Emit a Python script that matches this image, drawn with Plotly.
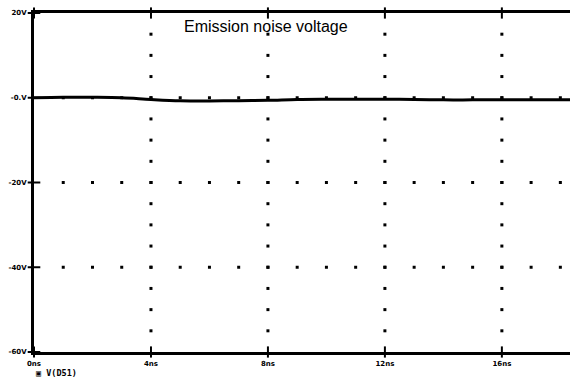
import plotly.graph_objects as go

# ---- data ----
time_ns = [0, 1, 2, 3, 4, 5, 6, 7, 8, 9, 10, 11, 12, 13, 14, 15, 16, 17, 18.33]
v_d51 = [0.0, 0.1, 0.1, 0.0, -0.4, -0.7, -0.75, -0.7, -0.6, -0.4, -0.35, -0.35, -0.35, -0.4, -0.5, -0.5, -0.5, -0.5, -0.5]

y_tick_vals = [20, 0, -20, -40, -60]
y_tick_text = ["20V", "-0.V", "-20V", "-40V", "-60V"]
x_tick_vals = [0, 4, 8, 12, 16]
x_tick_text = ["0ns", "4ns", "8ns", "12ns", "16ns"]

x_range = [0, 18.33]
y_range = [-60, 20]

grid_cols = [4, 8, 12, 16]
grid_rows = [0, -20, -40]
col_dot_levels = [15, 10, 5, 0, -5, -10, -15, -20, -25, -30, -35, -40, -45, -50, -55]
row_dot_times = [1, 2, 3, 4, 5, 6, 7, 8, 9, 10, 11, 12, 13, 14, 15, 16, 17, 18]

title_text = "Emission noise voltage"
legend_text = "▣ V(D51)"

# ---- figure ----
fig = go.Figure()

# dotted grid
gx, gy = [], []
for c in grid_cols:
    for lv in col_dot_levels:
        gx.append(c); gy.append(lv)
for r in grid_rows:
    for t in row_dot_times:
        gx.append(t); gy.append(r)
fig.add_trace(go.Scatter(x=gx, y=gy, mode="markers",
                         marker=dict(size=3, color="black", symbol="square"),
                         hoverinfo="skip", showlegend=False))

# signal
fig.add_trace(go.Scatter(x=time_ns, y=v_d51, mode="lines",
                         line=dict(color="black", width=3, shape="spline"),
                         showlegend=False, cliponaxis=False))

# cross-style tick marks
fig.add_trace(go.Scatter(x=[0] * len(y_tick_vals), y=y_tick_vals, mode="markers",
                         marker=dict(symbol="line-ew", size=9, line=dict(width=2, color="black")),
                         cliponaxis=False, showlegend=False, hoverinfo="skip"))
fig.add_trace(go.Scatter(x=x_tick_vals + x_tick_vals,
                         y=[y_range[0]] * len(x_tick_vals) + [y_range[1]] * len(x_tick_vals),
                         mode="markers",
                         marker=dict(symbol="line-ns", size=8, line=dict(width=2, color="black")),
                         cliponaxis=False, showlegend=False, hoverinfo="skip"))

tick_font = dict(family="DejaVu Sans", size=7, color="black", weight="bold")

fig.update_layout(
    width=570, height=381,
    margin=dict(l=34, r=0, t=13, b=29, autoexpand=False),
    paper_bgcolor="white", plot_bgcolor="white",
    showlegend=False,
    xaxis=dict(range=x_range, showgrid=False, zeroline=False, automargin=False,
               showline=True, linewidth=3, linecolor="black",
               tickvals=x_tick_vals, ticktext=x_tick_text, ticks="",
               tickfont=tick_font, ticklabelstandoff=3),
    xaxis2=dict(range=x_range, overlaying="x", side="top", showgrid=False,
                zeroline=False, showline=True, linewidth=3, linecolor="black",
                showticklabels=False, ticks="", automargin=False),
    yaxis=dict(range=y_range, showgrid=False, zeroline=False, automargin=False,
               showline=True, linewidth=3, linecolor="black",
               tickvals=y_tick_vals, ticktext=y_tick_text, ticks="",
               tickfont=tick_font, ticklabelstandoff=3),
    annotations=[
        dict(text=title_text, xref="paper", yref="paper", x=0.433, y=0.959,
             xanchor="center", yanchor="middle", showarrow=False,
             font=dict(family="Liberation Sans", size=16, color="black")),
        dict(text=legend_text, xref="paper", yref="paper", x=0.0, y=-0.084,
             xanchor="left", yanchor="bottom", showarrow=False,
             font=dict(family="DejaVu Sans Mono", size=8.5, color="black", weight="bold")),
    ],
)
# make xaxis2 visible by attaching an invisible trace
fig.add_trace(go.Scatter(x=[x_range[0]], y=[y_range[1]], xaxis="x2", mode="markers",
                         marker=dict(size=1, opacity=0), showlegend=False, hoverinfo="skip"))

fig.write_html("out.html", config={"displayModeBar": False},
               post_script="document.body.style.margin='0';document.body.style.padding='0';")
